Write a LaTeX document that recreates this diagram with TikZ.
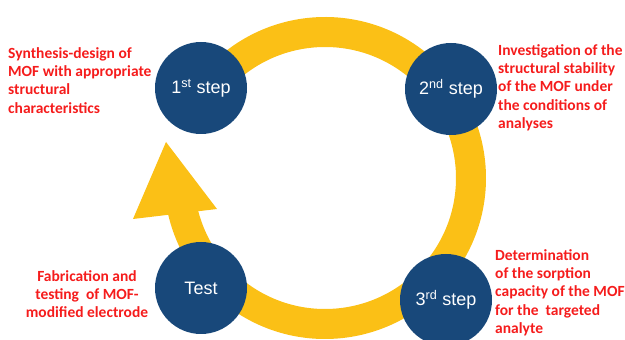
\documentclass[tikz,border=0pt]{standalone}
\usepackage{fontspec}
\setmainfont{Liberation Sans}
\newfontfamily\carl{Carlito}
\definecolor{ringyellow}{RGB}{251,192,22}
\definecolor{navy}{RGB}{24,72,122}
\definecolor{txtred}{RGB}{245,28,28}
\begin{document}
\begin{tikzpicture}[x=1pt,y=1pt,
  stepcircle/.style={circle,fill=navy,minimum size=92pt,inner sep=0pt,text=white,font=\fontsize{18}{20}\selectfont},
  redtext/.style={text=txtred,font=\carl\bfseries\fontsize{15.5}{18.4}\selectfont,inner sep=0pt}]
\useasboundingbox (0,0) rectangle (625,340);
\coordinate (C) at (325,162);
% ring
\draw[ringyellow,line width=30pt] (C) ++(140:146) arc[start angle=140,end angle=-168,radius=146];
% arrowhead
\coordinate (hl) at (133,121);
\coordinate (hr) at (217,131);
\coordinate (ht) at (166,198);
\fill[ringyellow] (hl) -- (hr) -- (ht) -- cycle;
% circles
\node[stepcircle] (s1) at (201,252) {1\textsuperscript{st} step};
\node[stepcircle] (s2) at (451,251) {2\textsuperscript{nd} step};
\node[stepcircle] (s3) at (446,40) {3\textsuperscript{rd} step};
\node[stepcircle] (st) at (201,52) {Test};
% texts
\node[redtext,anchor=north west,align=left] (t1) at (8,293) {Synthesis-design of\\MOF with appropriate\\structural\\characteristics};
\node[redtext,anchor=north west,align=left] (t2) at (498,296) {Investigation of the\\structural stability\\of the MOF under\\the conditions of\\analyses};
\node[redtext,anchor=north,align=center] (t3) at (87,70) {Fabrication and\\testing\ \ of MOF-\\modified electrode};
\node[redtext,anchor=north west,align=left] (t4) at (495,91) {Determination\\of the sorption\\capacity of the MOF\\for the\ \ targeted\\analyte};
\end{tikzpicture}
\end{document}
